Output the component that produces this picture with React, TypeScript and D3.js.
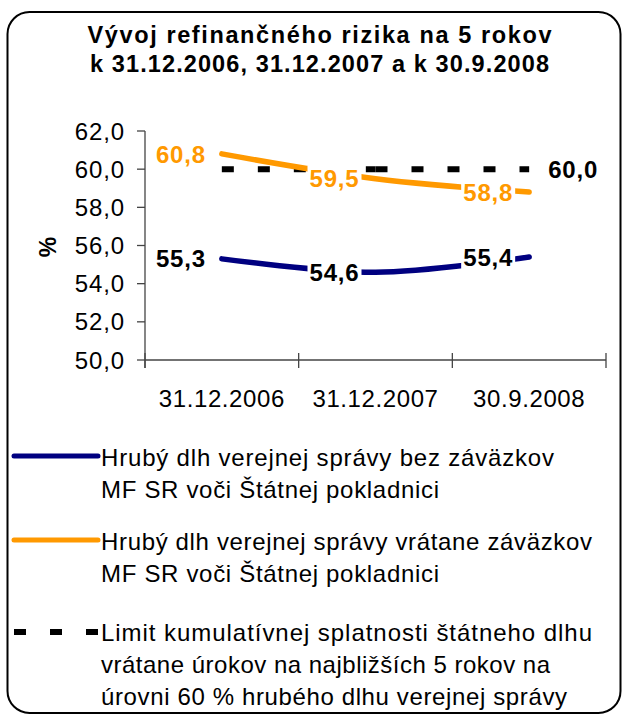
import React from "react";
import * as d3 from "d3";

const titleLines = ["Vývoj refinančného rizika na 5 rokov", "k 31.12.2006, 31.12.2007 a k 30.9.2008"];
const categories = ["31.12.2006", "31.12.2007", "30.9.2008"];
const grossDebtExcl = [55.3, 54.6, 55.4];
const grossDebtIncl = [60.8, 59.5, 58.8];
const limitValues = [60.0, 60.0, 60.0];
const yTicks = [50, 52, 54, 56, 58, 60, 62];
const yAxisLabel = "%";
const legendExcl = ["Hrubý dlh verejnej správy bez záväzkov", "MF SR voči Štátnej pokladnici"];
const legendIncl = ["Hrubý dlh verejnej správy vrátane záväzkov", "MF SR voči Štátnej pokladnici"];
const legendLimit = [
  "Limit kumulatívnej splatnosti štátneho dlhu",
  "vrátane úrokov na najbližších 5 rokov na",
  "úrovni 60 % hrubého dlhu verejnej správy",
];

const BLUE = "#000080";
const ORANGE = "#FF9900";
const FONT = "'Liberation Sans', Arial, sans-serif";
const fmt = (v: number) => d3.format(".1f")(v).replace(".", ",");

export default function App() {
  const W = 622, H = 716;
  const x = d3.scaleBand<string>().domain(categories).range([145, 606]).padding(0);
  const y = d3.scaleLinear().domain([50, 62]).range([360, 131]);
  const cx = (c: string) => (x(c) as number) + x.bandwidth() / 2;

  const line = d3
    .line<number>()
    .x((_, i) => cx(categories[i]))
    .y((d) => y(d))
    .curve(d3.curveCatmullRom.alpha(0.5));

  const labelW = 52;
  const dataLabel = (v: number, i: number, color: string, key: string) => {
    const px = cx(categories[i]);
    const py = y(v);
    const right = px - 16;
    return (
      <g key={key}>
        <rect x={right - labelW} y={py - 13} width={labelW + 2} height={25} fill="#fff" />
        <text
          x={right}
          y={py}
          dy="0.36em"
          textAnchor="end"
          fontFamily={FONT}
          fontWeight="bold"
          fontSize={24}
          letterSpacing={0.8}
          fill={color}
        >
          {fmt(v)}
        </text>
      </g>
    );
  };

  const legendText = (lines: string[], widths: number[], y0: number, key: string) => (
    <g key={key}>
      {lines.map((t, i) => (
        <text
          key={i}
          x={101}
          y={y0 + i * 32}
          fontFamily={FONT}
          fontSize={24}
          textLength={widths[i]}
          lengthAdjust="spacing"
          fill="#000"
        >
          {t}
        </text>
      ))}
    </g>
  );

  const titleWidths = [464, 459];

  return (
    <svg width={W} height={H} style={{ position: "absolute", left: 0, top: 0 }}>
      <rect x={0} y={0} width={W} height={H} fill="#fff" />
      <rect x={7.5} y={12} width={613} height={701} rx={22} ry={22} fill="#fff" stroke="#000" strokeWidth={2} />

      {titleLines.map((t, i) => (
        <text
          key={i}
          x={319.5 - titleWidths[i] / 2}
          y={42.5 + i * 29}
          fontFamily={FONT}
          fontWeight="bold"
          fontSize={23.5}
          textLength={titleWidths[i]}
          lengthAdjust="spacing"
          fill="#000"
        >
          {t}
        </text>
      ))}

      {/* y axis */}
      <line x1={145} x2={145} y1={y(62)} y2={368} stroke="#444" strokeWidth={1.3} />
      {yTicks.map((t) => (
        <g key={t}>
          <line x1={137} x2={145} y1={y(t)} y2={y(t)} stroke="#444" strokeWidth={1.3} />
          <text
            x={125}
            y={y(t)}
            dy="0.36em"
            textAnchor="end"
            fontFamily={FONT}
            fontSize={24}
            letterSpacing={0.9}
            fill="#000"
          >
            {fmt(t)}
          </text>
        </g>
      ))}
      <text
        transform={`translate(56,247) rotate(-90)`}
        textAnchor="middle"
        fontFamily={FONT}
        fontWeight="bold"
        fontSize={23}
        fill="#000"
      >
        {yAxisLabel}
      </text>

      {/* x axis */}
      <line x1={145} x2={606} y1={360} y2={360} stroke="#444" strokeWidth={1.3} />
      {[...categories.map((c) => x(c) as number), 606].map((tx, i) => (
        <line key={i} x1={tx} x2={tx} y1={353} y2={368} stroke="#444" strokeWidth={1.3} />
      ))}
      {categories.map((c) => (
        <text
          key={c}
          x={cx(c)}
          y={407}
          textAnchor="middle"
          fontFamily={FONT}
          fontSize={24}
          letterSpacing={0.6}
          fill="#000"
        >
          {c}
        </text>
      ))}

      {/* limit dashed line: each segment dashed separately */}
      {limitValues.slice(0, -1).map((v, i) => (
        <line
          key={i}
          x1={cx(categories[i])}
          x2={cx(categories[i + 1])}
          y1={y(v)}
          y2={y(limitValues[i + 1])}
          stroke="#000"
          strokeWidth={6}
          strokeDasharray="12 24"
        />
      ))}

      <path d={line(grossDebtIncl) || ""} fill="none" stroke={ORANGE} strokeWidth={5.5} strokeLinecap="round" />
      <path d={line(grossDebtExcl) || ""} fill="none" stroke={BLUE} strokeWidth={5.5} strokeLinecap="round" />

      {grossDebtIncl.map((v, i) => dataLabel(v, i, ORANGE, "o" + i))}
      {grossDebtExcl.map((v, i) => dataLabel(v, i, "#000", "b" + i))}
      <text
        x={cx(categories[2]) + 19}
        y={y(limitValues[2])}
        dy="0.36em"
        fontFamily={FONT}
        fontWeight="bold"
        fontSize={24}
        letterSpacing={0.8}
        fill="#000"
      >
        {fmt(limitValues[2])}
      </text>

      {/* legend */}
      <line x1={14} x2={98} y1={456} y2={456} stroke={BLUE} strokeWidth={5} strokeLinecap="round" />
      {legendText(legendExcl, [453, 338], 466, "l1")}
      <line x1={14} x2={98} y1={540} y2={540} stroke={ORANGE} strokeWidth={5} strokeLinecap="round" />
      {legendText(legendIncl, [491, 338], 550, "l2")}
      <line x1={14} x2={98} y1={632} y2={632} stroke="#000" strokeWidth={6} strokeDasharray="12 24" />
      {legendText(legendLimit, [491, 449, 466], 641, "l3")}
    </svg>
  );
}
